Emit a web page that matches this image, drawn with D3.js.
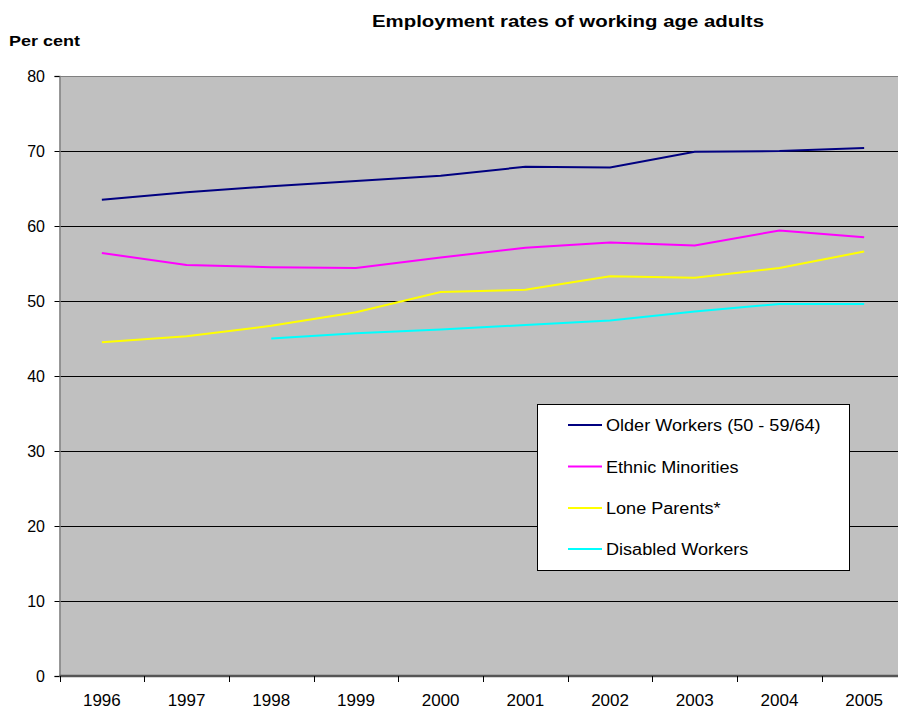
<!DOCTYPE html>
<html>
<head>
<meta charset="utf-8">
<script src="https://cdn.jsdelivr.net/npm/d3@7/dist/d3.min.js"></script>
<style>
  html, body { margin: 0; padding: 0; background: #ffffff; }
  svg { display: block; font-family: "Liberation Sans", Arial, sans-serif; }
</style>
</head>
<body>
<svg id="chart" width="898" height="713"></svg>
<script>
// Employment rates (%) by group, 1996-2005
const years = ["1996", "1997", "1998", "1999", "2000", "2001", "2002", "2003", "2004", "2005"];
const olderWorkers = [63.5, 64.5, 65.3, 66.0, 66.7, 67.9, 67.8, 69.9, 70.0, 70.4];
const ethnicMinorities = [56.4, 54.8, 54.5, 54.4, 55.8, 57.1, 57.8, 57.4, 59.4, 58.5];
const loneParents = [44.5, 45.3, 46.7, 48.5, 51.2, 51.5, 53.3, 53.1, 54.4, 56.6];
const disabledWorkers = [null, null, 45.0, 45.7, 46.2, 46.8, 47.4, 48.6, 49.6, 49.6];
const yTicks = [0, 10, 20, 30, 40, 50, 60, 70, 80];

const seriesNames = ["Older Workers (50 - 59/64)", "Ethnic Minorities", "Lone Parents*", "Disabled Workers"];
const seriesColors = ["#000080", "#FF00FF", "#FFFF00", "#00FFFF"];
const seriesValues = [olderWorkers, ethnicMinorities, loneParents, disabledWorkers];

const svg = d3.select("#chart");
const plot = { left: 59.5, top: 76, width: 847, height: 600 };

const x = d3.scaleBand().domain(years).range([plot.left, plot.left + plot.width]).padding(0);
const y = d3.scaleLinear().domain([0, 80]).range([plot.top + plot.height, plot.top]);

// text drawn slightly wider than the font's natural width
function wideText(parent, tx, ty, str, size, sx, opts = {}) {
  return parent.append("text")
    .attr("transform", `translate(${tx},${ty}) scale(${sx},1)`)
    .attr("font-size", size)
    .attr("font-weight", opts.bold ? "bold" : "normal")
    .attr("text-anchor", opts.anchor || "start")
    .attr("fill", "#000000")
    .text(str);
}

// plot background
svg.append("rect")
  .attr("x", plot.left).attr("y", plot.top)
  .attr("width", plot.width).attr("height", plot.height)
  .attr("fill", "#C0C0C0");

// top border of plot area
svg.append("line")
  .attr("x1", plot.left).attr("x2", plot.left + plot.width)
  .attr("y1", plot.top + 0.5).attr("y2", plot.top + 0.5)
  .attr("stroke", "#808080").attr("stroke-width", 1);

// horizontal gridlines
svg.append("g").selectAll("line")
  .data(yTicks.filter(d => d > 0 && d < 80))
  .join("line")
  .attr("x1", plot.left).attr("x2", plot.left + plot.width)
  .attr("y1", d => Math.round(y(d)) + 0.5).attr("y2", d => Math.round(y(d)) + 0.5)
  .attr("stroke", "#000000").attr("stroke-width", 1);

// y axis
const yAxis = svg.append("g")
  .attr("transform", `translate(${plot.left},0)`)
  .call(d3.axisLeft(y).tickValues(yTicks).tickSize(5).tickPadding(9.5).tickFormat(d3.format("d")));
yAxis.select(".domain").attr("stroke", "#808080").attr("stroke-width", 1.5);
yAxis.selectAll(".tick line").attr("stroke", "#000000");
yAxis.selectAll("text").attr("font-size", 16).attr("fill", "#000000")
  .attr("font-family", "Liberation Sans, Arial, sans-serif");

// x axis: ticks on band boundaries, labels in band centres
const xAxisG = svg.append("g").attr("transform", `translate(0,${plot.top + plot.height})`);
xAxisG.append("line")
  .attr("x1", plot.left).attr("x2", plot.left + plot.width)
  .attr("y1", 0).attr("y2", 0)
  .attr("stroke", "#555555").attr("stroke-width", 2.5);
xAxisG.selectAll("line.tk")
  .data(years)
  .join("line").attr("class", "tk")
  .attr("x1", d => Math.round(x(d)) + 0.5).attr("x2", d => Math.round(x(d)) + 0.5)
  .attr("y1", 0).attr("y2", 6)
  .attr("stroke", "#000000");
xAxisG.selectAll("text")
  .data(years)
  .join("text")
  .attr("x", d => x(d) + x.bandwidth() / 2)
  .attr("y", 30)
  .attr("text-anchor", "middle")
  .attr("font-size", 17)
  .text(d => d);

// series lines
const line = d3.line()
  .defined(d => d.v != null)
  .x(d => x(d.year) + x.bandwidth() / 2)
  .y(d => y(d.v));

seriesValues.forEach((vals, i) => {
  svg.append("path")
    .datum(years.map((yr, j) => ({ year: yr, v: vals[j] })))
    .attr("d", line)
    .attr("fill", "none")
    .attr("stroke", seriesColors[i])
    .attr("stroke-width", 2);
});

// title and axis caption
wideText(svg, 568, 27, "Employment rates of working age adults", 17, 1.2, { bold: true, anchor: "middle" });
wideText(svg, 9, 46, "Per cent", 15, 1.2, { bold: true });

// legend
const legend = svg.append("g");
legend.append("rect")
  .attr("x", 537.5).attr("y", 404.5)
  .attr("width", 312).attr("height", 166)
  .attr("fill", "#ffffff").attr("stroke", "#000000").attr("stroke-width", 1);
const rowY = [425, 466.5, 508, 549];
seriesNames.forEach((name, i) => {
  legend.append("line")
    .attr("x1", 568).attr("x2", 602)
    .attr("y1", rowY[i]).attr("y2", rowY[i])
    .attr("stroke", seriesColors[i]).attr("stroke-width", 2);
  wideText(legend, 606, rowY[i] + 6, name, 16, 1.13);
});
</script>
</body>
</html>
